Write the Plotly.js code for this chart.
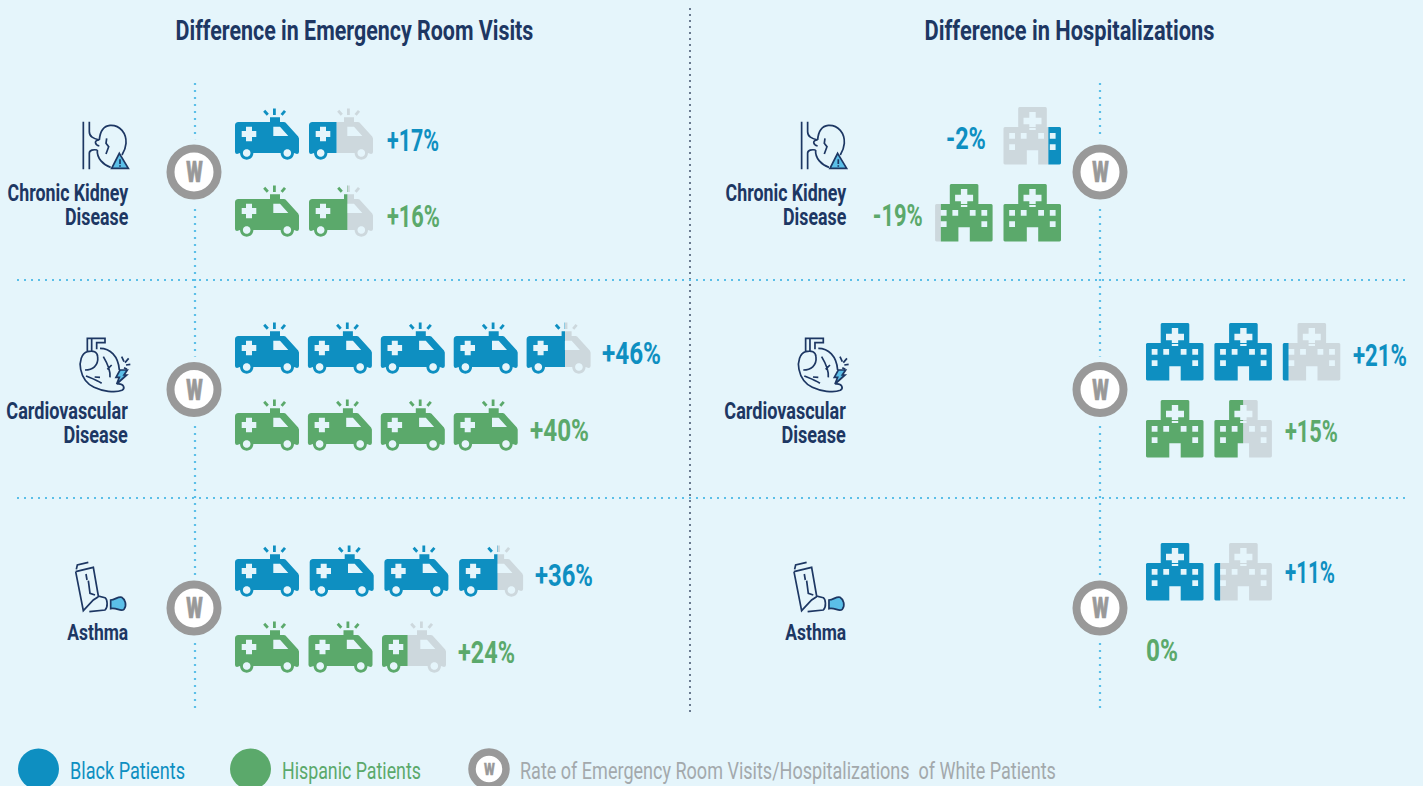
<!DOCTYPE html>
<html><head><meta charset="utf-8">
<script src="https://cdn.plot.ly/plotly-3.0.1.min.js"></script>
<style>
html,body{margin:0;padding:0;background:#e5f5fb;overflow:hidden}
#chart{width:1423px;height:786px}
</style></head><body><div id="chart"></div>
<script>
// ---------- DATA ----------
const conditions = ['Chronic Kidney<br>Disease', 'Cardiovascular<br>Disease', 'Asthma'];
const erBlack = [17, 46, 36];
const erHispanic = [16, 40, 24];
const hospBlack = [-2, 21, 11];
const hospHispanic = [-19, 15, 0];
// icon counts as drawn in the reference (one icon is about 10 points)
const erBlackIcons = [1.43, 4.6, 3.6];
const erHispanicIcons = [1.6, 4, 2.4];
const hospBlackIcons = [0.22, 2.1, 1.1];
const hospHispanicIcons = [1.9, 1.5, 0];
const panelTitles = ['Difference in Emergency Room Visits', 'Difference in Hospitalizations'];
const legendLabels = ['Black Patients', 'Hispanic Patients', 'Rate of Emergency Room Visits/Hospitalizations  of White Patients'];

// ---------- STYLE ----------
const BG='#e5f5fb', BLUE='#0e8fc1', GREEN='#5ba96b', GREY='#cdd8dd', NAVY='#1d3763', RING='#999999', SKY='#5bbfe8', TXTGREY='#a3a9ac';
const FONT='Roboto,"Liberation Sans",sans-serif';

// ---------- GLYPHS ----------
function arc(cx,cy,r,a0,a1,n){const p=[];for(let i=0;i<=n;i++){const a=(a0+(a1-a0)*i/n)*Math.PI/180;p.push([cx+r*Math.cos(a),cy+r*Math.sin(a)]);}return p;}
function circle(cx,cy,r){return arc(cx,cy,r,0,-360,24);}
function rect(x0,y0,x1,y1){return [[x0,y0],[x1,y0],[x1,y1],[x0,y1]];}
function rrect(x0,y0,x1,y1,r){return [...arc(x0+r,y0+r,r,180,270,3),...arc(x1-r,y0+r,r,270,360,3),...arc(x1-r,y1-r,r,0,90,3),...arc(x0+r,y1-r,r,90,180,3)];}
function plus(cx,cy,a,w){return [[cx-w,cy-a],[cx+w,cy-a],[cx+w,cy-w],[cx+a,cy-w],[cx+a,cy+w],[cx+w,cy+w],[cx+w,cy+a],[cx-w,cy+a],[cx-w,cy+w],[cx-a,cy+w],[cx-a,cy-w],[cx-w,cy-w]];}
function bar(x0,y0,x1,y1,w){const dx=x1-x0,dy=y1-y0,l=Math.hypot(dx,dy),nx=-dy/l*w/2,ny=dx/l*w/2;return [[x0+nx,y0+ny],[x1+nx,y1+ny],[x1-nx,y1-ny],[x0-nx,y0-ny]];}
function area(r){let s=0;for(let i=0;i<r.length;i++){const a=r[i],b=r[(i+1)%r.length];s+=a[0]*b[1]-b[0]*a[1];}return s;}
function orient(r,pos){return (area(r)>0)===pos?r:r.slice().reverse();}

const AMB_W=64;
const ambulance={w:AMB_W,rings:[
  orient([...arc(3,17,3,180,270,3),[49,14],[50.5,14.6],[63.2,28.5],[64,30.5],[64,43.5],...arc(62,44,2,0,90,2),
    ...arc(52.3,45,6.7,0,180,10),...arc(11.7,45,6.7,0,180,10),...arc(2,44,2,90,180,2)],true),
  orient(rect(35,9.3,45,14.5),true),
  orient(bar(39.4,0.5,39.4,7,2.8),true),
  orient(bar(29.2,2.8,32.8,6.8,2.8),true),
  orient(bar(50,2.8,46.6,6.8,2.8),true)
],holes:[
  orient(plus(14,26,7.3,3),false),
  orient([[38.3,18.7],[45,18.7],[53.3,28],[38.3,28]],false),
  orient(circle(11.7,45,3.8),false),
  orient(circle(52.3,45,3.8),false)
]};
const HOSP_W=57.5;
const hospital={w:HOSP_W,rings:[
  orient(rrect(14.7,0,43.3,21,1.5),true),
  orient([...arc(1.5,21.5,1.5,180,270,3),[21,20],[37,20],...arc(56,21.5,1.5,270,360,3),...arc(56,56,1.5,0,90,3),[34.7,57.5],[34.7,43.3],[23.3,43.3],[23.3,57.5],...arc(1.5,56,1.5,90,180,3)],true)
],holes:[
  orient(plus(29,14,9,3.2),false),
  ...[[5.7,26],[17.3,26],[34.7,26],[46.3,26],[5.7,37.3],[46.3,37.3]].map(p=>orient(rect(p[0],p[1],p[0]+5.8,p[1]+5.8),false))
]};

// Keep the part of a ring on one side of x=k
function clipRing(r,k,keepLeft){
  const inside=p=>keepLeft?p[0]<=k:p[0]>=k, out=[];
  for(let i=0;i<r.length;i++){
    const a=r[i],b=r[(i+1)%r.length],ia=inside(a),ib=inside(b);
    if(ia)out.push(a);
    if(ia!==ib){const t=(k-a[0])/(b[0]-a[0]);out.push([k,a[1]+t*(b[1]-a[1])]);}
  }
  return out;
}
function addGlyph(acc,g,left,top,from,to){
  [...g.rings,...g.holes].forEach(r=>{
    let c=r;
    if(from>0)c=clipRing(c,from*g.w,false);
    if(c.length&&to<1)c=clipRing(c,to*g.w,true);
    if(c.length<3)return;
    c.forEach(p=>{acc.x.push(left+p[0]);acc.y.push(top+p[1]);});
    acc.x.push(left+c[0][0],null);acc.y.push(top+c[0][1],null);
  });
}

// ---------- LAYOUT CONSTANTS (the axes run in page pixels) ----------
const traces=[],annotations=[],shapes=[],fits=[];
function fillTrace(acc,color,name){traces.push({type:'scatter',mode:'lines',x:acc.x,y:acc.y,fill:'toself',fillcolor:color,line:{width:0,color:color,simplify:false},hoverinfo:'skip',name:name,showlegend:false});}
// "fit" is the width the text takes in the reference; the face is condensed to it after plotting
function label(x,y,text,color,size,anchor,weight,fit,extra){
  annotations.push({x:x,y:y,xref:'x',yref:'y',text:text,showarrow:false,xanchor:anchor,yanchor:'middle',align:anchor,font:{family:FONT,size:size,color:color,weight:weight||400},borderpad:0,borderwidth:0});
  fits.push(Object.assign({fit:fit,anchor:anchor},extra||{}));
}
const fmt=v=>(v>0?'+':'')+v+'%';
const VSIZE=31,VWEIGHT=700;

function iconRow(glyph,on,off,n,left,top,rtl){
  const whole=Math.floor(n+1e-9),frac=n-whole,total=Math.ceil(n-1e-9);
  for(let k=0;k<total;k++){
    const f=k<whole?1:frac,l=left(k);
    if(rtl){addGlyph(on,glyph,l,top,1-f,1);if(f<1)addGlyph(off,glyph,l,top,0,1-f);}
    else{addGlyph(on,glyph,l,top,0,f);if(f<1)addGlyph(off,glyph,l,top,f,1);}
  }
  return total;
}
function erSeries(name,color,counts,values,tops,steps,gaps,ys,fit){
  const on={x:[],y:[]},off={x:[],y:[]};
  counts.forEach((n,i)=>{
    const t=iconRow(ambulance,on,off,n,k=>235+k*steps[i],tops[i],false);
    label(235+(t-1)*steps[i]+AMB_W+gaps[i],ys[i],fmt(values[i]),color,VSIZE,'left',VWEIGHT,fit[i]);
  });
  fillTrace(off,GREY,name+' (remainder)');fillTrace(on,color,name);
}
function hospSeries(name,color,counts,values,tops,ys,gaps,fit){
  const STEP=68.4,on={x:[],y:[]},off={x:[],y:[]};
  counts.forEach((n,i)=>{
    const neg=values[i]<0;
    const t=iconRow(hospital,on,off,n,k=>neg?1003.5-k*STEP:1146+k*STEP,tops[i],neg);
    if(neg)label(1003.5-(t-1)*STEP-gaps[i],ys[i],fmt(values[i]),color,VSIZE,'right',VWEIGHT,fit[i]);
    else if(t===0)label(1146,ys[i],fmt(values[i]),color,VSIZE,'left',VWEIGHT,fit[i]);
    else label(1146+(t-1)*STEP+HOSP_W+gaps[i],ys[i],fmt(values[i]),color,VSIZE,'left',VWEIGHT,fit[i]);
  });
  fillTrace(off,GREY,name+' (remainder)');fillTrace(on,color,name);
}
erSeries('Black ER',BLUE,erBlackIcons,erBlack,[108,322,545],[74,72.9,74.7],[14,11,12],[140,353,575],[52,59,58]);
erSeries('Hispanic ER',GREEN,erHispanicIcons,erHispanic,[185,399,621],[74,72.9,73.5],[14,12,12],[216,430,652],[53,59,57]);
hospSeries('Black hospitalizations',BLUE,hospBlackIcons,hospBlack,[107,323,543],[138,355,572],[18,12.5,13],[40,54,50]);
hospSeries('Hispanic hospitalizations',GREEN,hospHispanicIcons,hospHispanic,[184,400,0],[215,431,650],[12,13,0],[50,53,32]);

// ---------- RULES ----------
function dotted(x0,y0,x1,y1,color,dash,w){shapes.push({type:'line',xref:'x',yref:'y',x0:x0,y0:y0,x1:x1,y1:y1,layer:'below',line:{color:color,width:w||2.2,dash:dash}});}
dotted(690,8,690,712,'#4c5d75','2px,4px',1.6);
dotted(17,280,1405,280,SKY,'2px,5px');
dotted(17,498,1405,498,SKY,'2px,5px');
dotted(195,83,195,710,SKY,'2px,5px');
dotted(1100,83,1100,710,SKY,'2px,5px');

// ---------- W MARKERS ----------
const ringX=[194,1100],ringY=[172,389.5,608];
const rx=[],ry=[];ringX.forEach(x=>ringY.forEach(y=>{rx.push(x);ry.push(y);}));
traces.push({type:'scatter',mode:'markers',x:rx,y:ry,hoverinfo:'skip',showlegend:false,marker:{size:66,color:BG,opacity:1,line:{width:0}}});
traces.push({type:'scatter',mode:'markers',x:[...rx,489],y:[...ry,769],hoverinfo:'skip',showlegend:false,
  marker:{size:[...rx.map(()=>47),34],color:'#ffffff',opacity:1,line:{color:RING,width:[...rx.map(()=>8),7.5]}}});
rx.forEach((x,i)=>label(x,ry[i],'W',RING,29,'center',900,16.5,{stroke:0.7}));

// ---------- ICONS OF THE CONDITIONS ----------
function tf(d,ox,oy){return d.replace(/(-?[\d.]+),(-?[\d.]+)/g,(m,a,b)=>((+a/3+ox).toFixed(2)+','+(+b/3+oy).toFixed(2))).replace(/([A-Z])/g,' $1 ').replace(/,/g,' ');}
function icon(d,ox,oy,fill,w){shapes.push({type:'path',xref:'x',yref:'y',path:tf(d,ox,oy),fillcolor:fill||'rgba(0,0,0,0)',line:{color:NAVY,width:w||1.7},layer:'above'});}
const kidney='M250,95 L250,238 M268,95 L268,125 C268,140 280,145 298,150 M268,238 L268,190 C268,180 280,178 292,180 M298,150 C280,150 285,165 298,168 M298,150 C300,125 310,108 330,106 C360,104 380,130 378,160 C377,175 372,185 366,195 M292,180 C290,205 310,225 332,232 M320,145 L318,160 L326,170 L318,192';
const kidneyWarn='M358,190 L385,235 L335,235 Z';
const kidneyMark='M360,208 L360,222 M360,226 L360,230';
const heart='M262,95 C245,100 237,125 242,148 C246,168 258,190 282,202 C305,213 345,220 366,211 C376,205 372,190 352,192 M300,85 C330,85 355,108 358,150 M262,95 L262,55 L315,55 L315,68 L290,68 L290,88 M275,55 L275,92 M255,150 C277,150 296,138 293,110 C292,96 280,90 262,95 M310,110 C322,130 332,150 330,172 M322,148 L335,135 M258,168 C275,175 290,180 305,190 M284,171 L300,172';
const heartBolt='M360,150 L382,150 L372,165 L380,165 L350,192 L358,172 L348,172 Z';
const heartSpark='M365,110 L372,125 M386,115 L375,128 M391,133 L378,135 M381,148 L372,143';
const inhaler='M77,65 L130,52 L145,138 L165,143 C172,148 175,170 165,180 L118,185 M77,65 L100,182 L130,150 L145,140 M79,58 L82,45 L115,37 M108,72 L111,90 M115,92 L120,130 L135,135';
const inhalerSpray='M182,150 C195,150 205,138 215,142 C225,148 232,165 222,178 C212,186 200,172 182,176 Z';
[0,718.3].forEach(dx=>{
  icon(kidney,dx,90);icon(kidneyWarn,dx,90,SKY);icon(kidneyMark,dx,90);
  icon(heart,dx,320);icon(heartBolt,dx,320,SKY);icon(heartSpark,dx,320);
  icon(inhaler,dx+50,550);icon(inhalerSpray,dx+50,550,SKY);
});
// condition names: first-line centre and widest-line width in the reference
const labelY=[194,412,632];
const labelFit=[121,122,61];
const LABEL_SIZE=23,LABEL_LEADING=24;
[128,846].forEach(x=>conditions.forEach((c,i)=>{
  const multi=c.includes('<br>');
  label(x,labelY[i]+(multi?LABEL_SIZE*1.3/2:0),c,NAVY,LABEL_SIZE,'right',700,labelFit[i],{leading:multi?LABEL_LEADING:0});
}));

// ---------- TITLES AND LEGEND ----------
label(354,30.5,panelTitles[0],NAVY,27,'center',700,358);
label(1069.5,30.5,panelTitles[1],NAVY,27,'center',700,290);
traces.push({type:'scatter',mode:'markers',x:[38.5,250.5],y:[769,769],hoverinfo:'skip',showlegend:false,marker:{size:41,color:[BLUE,GREEN],line:{width:0}}});
label(70,771,legendLabels[0],BLUE,24,'left',400,115);
label(282,771,legendLabels[1],GREEN,24,'left',400,139);
label(520,771,legendLabels[2],TXTGREY,24,'left',400,536);
label(489,769,'W',RING,17,'center',900,11,{stroke:0.4});

const axis=r=>({range:r,visible:false,fixedrange:true,showgrid:false,zeroline:false});
Plotly.newPlot('chart',traces,{width:1423,height:786,margin:{l:0,r:0,t:0,b:0},paper_bgcolor:BG,plot_bgcolor:BG,
  xaxis:axis([0,1423]),yaxis:axis([786,0]),showlegend:false,annotations:annotations,shapes:shapes,hovermode:false},{displayModeBar:false,staticPlot:true}).then(()=>{
  // no condensed face is installed, so narrow each text to its measured width
  document.querySelectorAll('.annotation').forEach(g=>{
    const info=fits[+g.getAttribute('data-index')],t=g.querySelector('text');
    if(!info||!t||!info.fit)return;
    if(info.leading){
      const lines=t.querySelectorAll('tspan.line');
      if(lines.length>1)lines[1].setAttribute('dy',info.leading);
    }
    if(info.stroke){t.style.stroke=RING;t.style.strokeWidth=info.stroke+'px';}
    const w=t.getBBox().width;
    t.style.transformBox='fill-box';
    t.style.transformOrigin=info.anchor==='left'?'left center':info.anchor==='right'?'right center':'center';
    t.style.transform='scaleX('+(info.fit/w).toFixed(4)+')';
  });
});
</script></body></html>
